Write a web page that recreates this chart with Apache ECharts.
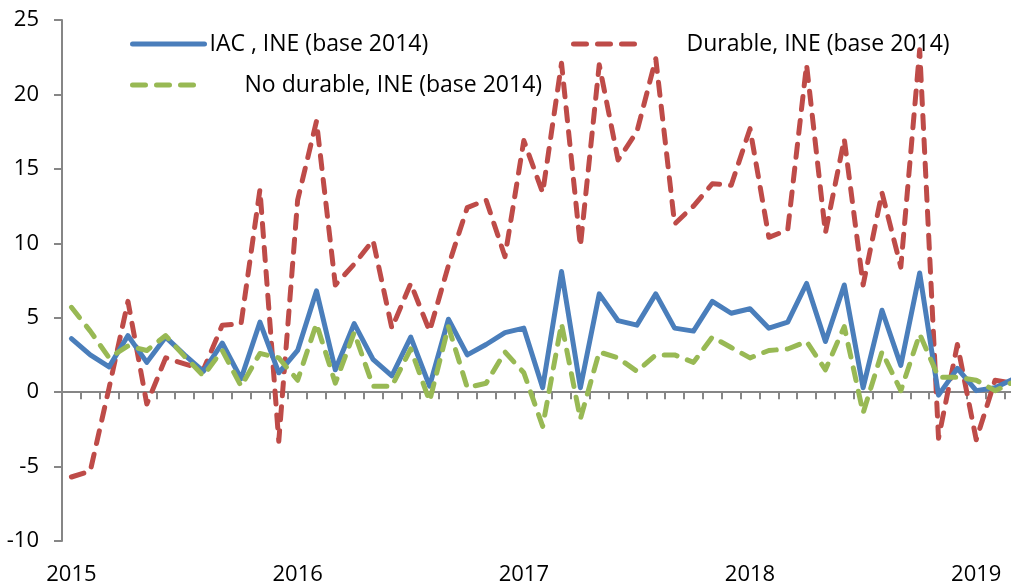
<!DOCTYPE html>
<html>
<head>
<meta charset="utf-8">
<script src="https://cdn.jsdelivr.net/npm/echarts@6.0.0/dist/echarts.min.js"></script>
<style>
  html, body { margin: 0; padding: 0; overflow: hidden; background: #fff; }
  #chart { width: 1030px; height: 586px; }
</style>
</head>
<body>
<div id="chart"></div>
<script>
// monthly, Jan 2015 .. Mar 2019
const months = [
  '2015-01','2015-02','2015-03','2015-04','2015-05','2015-06','2015-07','2015-08','2015-09','2015-10','2015-11','2015-12',
  '2016-01','2016-02','2016-03','2016-04','2016-05','2016-06','2016-07','2016-08','2016-09','2016-10','2016-11','2016-12',
  '2017-01','2017-02','2017-03','2017-04','2017-05','2017-06','2017-07','2017-08','2017-09','2017-10','2017-11','2017-12',
  '2018-01','2018-02','2018-03','2018-04','2018-05','2018-06','2018-07','2018-08','2018-09','2018-10','2018-11','2018-12',
  '2019-01','2019-02','2019-03'
];

const iac = [
  3.6, 2.5, 1.7, 3.8, 2.0, 3.7, 2.5, 1.4, 3.3, 0.9, 4.7, 1.3,
  2.8, 6.8, 1.5, 4.6, 2.2, 1.1, 3.7, 0.4, 4.9, 2.5, 3.2, 4.0,
  4.3, 0.3, 8.1, 0.3, 6.6, 4.8, 4.5, 6.6, 4.3, 4.1, 6.1, 5.3,
  5.6, 4.3, 4.7, 7.3, 3.4, 7.2, 0.3, 5.5, 1.8, 8.0, -0.2, 1.6,
  0.1, 0.3, 0.9
];

const durable = [
  -5.7, -5.3, 0.3, 6.1, -0.8, 2.3, 1.9, 1.5, 4.5, 4.6, 13.6, -3.3,
  12.9, 18.2, 7.2, 8.6, 10.2, 4.3, 7.3, 4.1, 8.5, 12.4, 12.9, 9.1,
  16.9, 13.4, 22.1, 9.8, 22.0, 15.6, 17.5, 22.4, 11.3, 12.5, 14.0, 13.9,
  17.7, 10.4, 10.9, 22.0, 10.7, 17.0, 7.2, 13.4, 8.4, 23.0, -3.1, 3.2,
  -3.2, 0.8, 0.6
];

const noDurable = [
  5.7, 4.1, 2.3, 3.1, 2.8, 3.8, 2.4, 1.1, 2.8, 0.4, 2.6, 2.3,
  0.8, 4.6, 0.6, 4.0, 0.4, 0.4, 2.9, -0.6, 4.4, 0.3, 0.6, 2.7,
  1.3, -2.3, 4.6, -1.8, 2.7, 2.3, 1.4, 2.5, 2.5, 2.0, 3.7, 3.0,
  2.3, 2.8, 2.9, 3.4, 1.5, 4.4, -1.4, 2.7, 0.1, 3.9, 1.0, 1.0,
  0.8, 0.1, 0.7
];

const seriesNames = ['IAC , INE (base 2014)', 'Durable, INE (base 2014)', 'No durable, INE (base 2014)'];
const yTicks = [-10, -5, 0, 5, 10, 15, 20, 25];

const FONT = '"Open Sans", Lato, sans-serif';
const AXIS = '#868686';

const chart = echarts.init(document.getElementById('chart'), null, { renderer: 'canvas' });

const legendText = { fontFamily: FONT, fontSize: 23, lineHeight: 24, color: '#000' };
const legendBase = {
  orient: 'horizontal',
  padding: 0,
  itemWidth: 72,
  itemHeight: 24,
  itemStyle: { opacity: 0 },            // hide the symbol a line legend adds
  lineStyle: { width: 5, cap: 'round' },
  textStyle: legendText
};

const dash = [13, 11];

chart.setOption({
  animation: false,
  backgroundColor: '#fff',
  grid: { left: 62, top: 20, width: 961.35, height: 521, containLabel: false },
  legend: [
    Object.assign({}, legendBase, { data: [seriesNames[0]], left: 130, top: 32 }),
    Object.assign({}, legendBase, { data: [seriesNames[1]], left: 571, top: 32,
      textStyle: Object.assign({}, legendText, { padding: [0, 0, 0, 36] }) }),
    Object.assign({}, legendBase, { data: [seriesNames[2]], left: 130, top: 73,
      textStyle: Object.assign({}, legendText, { padding: [0, 0, 0, 35] }) })
  ],
  xAxis: [
    {
      type: 'category',
      data: months,
      boundaryGap: true,
      axisLine: { onZero: true, lineStyle: { color: AXIS, width: 2 } },
      axisTick: { show: true, interval: 0, length: 7, lineStyle: { color: AXIS, width: 2 } },
      axisLabel: { show: false },
      splitLine: { show: false }
    },
    {
      type: 'category',
      data: months,
      position: 'bottom',
      boundaryGap: true,
      axisLine: { show: false, onZero: false },
      axisTick: { show: false },
      axisLabel: {
        interval: 0,
        margin: 23,
        fontFamily: FONT,
        fontSize: 22,
        color: '#000',
        formatter: v => (v.endsWith('-01') ? v.slice(0, 4) : '')
      },
      splitLine: { show: false }
    }
  ],
  yAxis: {
    type: 'value',
    min: yTicks[0],
    max: yTicks[yTicks.length - 1],
    interval: 5,
    axisLine: { show: true, lineStyle: { color: AXIS, width: 2 } },
    axisTick: { show: true, length: 8, lineStyle: { color: AXIS, width: 2 } },
    axisLabel: { margin: 23, fontFamily: FONT, fontSize: 22, color: '#000' },
    splitLine: { show: false }
  },
  series: [
    {
      name: seriesNames[0],
      type: 'line',
      data: iac,
      xAxisIndex: 0,
      symbol: 'none',
      z: 3,
      color: '#4a7ebb',
      lineStyle: { color: '#4a7ebb', width: 5, cap: 'round', join: 'round' }
    },
    {
      name: seriesNames[1],
      type: 'line',
      data: durable,
      xAxisIndex: 0,
      symbol: 'none',
      z: 2,
      color: '#be4b48',
      lineStyle: { color: '#be4b48', width: 5, type: dash, cap: 'round', join: 'round' }
    },
    {
      name: seriesNames[2],
      type: 'line',
      data: noDurable,
      xAxisIndex: 0,
      symbol: 'none',
      z: 4,
      color: '#98b954',
      lineStyle: { color: '#98b954', width: 5, type: dash, cap: 'round', join: 'round' }
    }
  ]
});
</script>
</body>
</html>
